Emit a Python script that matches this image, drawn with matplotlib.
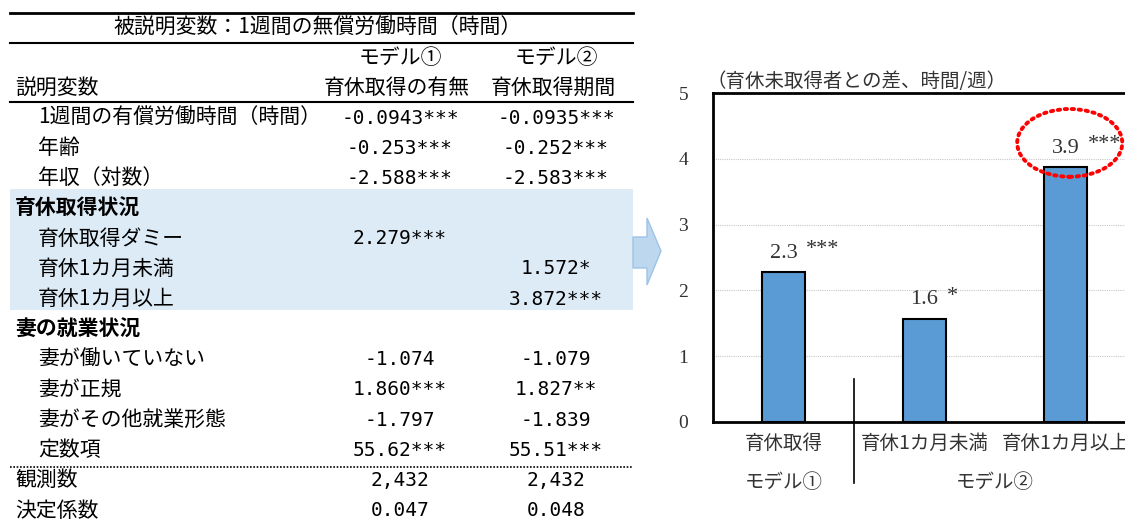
import matplotlib
matplotlib.use('Agg')
import numpy as np
import matplotlib.pyplot as plt
from matplotlib.patches import Rectangle, Polygon, Ellipse
import matplotlib.transforms as mtransforms

plt.rcParams['font.family'] = ['Noto Sans CJK JP', 'DejaVu Sans']

# 回帰表
table_title = '被説明変数：1週間の無償労働時間（時間）'
model_names = ['モデル①', 'モデル②']
model_desc = ['育休取得の有無', '育休取得期間']
row_labels = ['1週間の有償労働時間（時間）', '年齢', '年収（対数）', '育休取得状況',
              '育休取得ダミー', '育休1カ月未満', '育休1カ月以上', '妻の就業状況',
              '妻が働いていない', '妻が正規', '妻がその他就業形態', '定数項',
              '観測数', '決定係数']
row_kind = ['item', 'item', 'item', 'head', 'item', 'item', 'item', 'head',
            'item', 'item', 'item', 'item', 'stat', 'stat']
model1_vals = ['-0.0943***', '-0.253***', '-2.588***', '', '2.279***', '', '', '',
               '-1.074', '1.860***', '-1.797', '55.62***', '2,432', '0.047']
model2_vals = ['-0.0935***', '-0.252***', '-2.583***', '', '', '1.572*', '3.872***', '',
               '-1.079', '1.827**', '-1.839', '55.51***', '2,432', '0.048']

# 棒グラフ
bar_title = '（育休未取得者との差、時間/週）'
categories = ['育休取得', '育休1カ月未満', '育休1カ月以上']
coefs = [2.279, 1.572, 3.872]
stars = ['***', '*', '***']
groups = ['モデル①', 'モデル②']
group_members = [[0], [1, 2]]

fig = plt.figure(figsize=(11.25, 5.2), dpi=100)

# 左側の表 (ピクセル座標)
ax0 = fig.add_axes([0, 0, 1, 1])
ax0.set_xlim(0, 1125)
ax0.set_ylim(520, 0)
ax0.axis('off')

fs = 15
num_font = dict(fontsize=14, fontfamily='DejaVu Sans Mono')
col_x = [400, 556]
ax0.add_patch(Rectangle((10, 189), 623, 121, facecolor='#DDEBF7', edgecolor='none', zorder=0))
ax0.add_patch(Polygon([(633, 237), (647, 237), (647, 218), (661, 251), (647, 285), (647, 268), (633, 268)],
                      closed=True, facecolor='#BDD7EE', edgecolor='#9DC3E6', lw=1, zorder=1))

ax0.plot([10, 633], [13, 13], color='k', lw=2)
ax0.plot([10, 633], [43, 43], color='k', lw=1.5)
ax0.plot([10, 633], [102, 102], color='k', lw=1.5)
ax0.plot([10, 633], [467, 467], color='k', lw=1.2, linestyle=(0, (1, 1)))

ax0.text(318, 28, table_title, fontsize=fs, ha='center', va='center')
for i in range(2):
    ax0.text(col_x[i], 58, model_names[i], fontsize=fs, ha='center', va='center')
    ax0.text(col_x[i] - 3, 88, model_desc[i], fontsize=fs, ha='center', va='center')
ax0.text(15, 88, '説明変数', fontsize=fs, ha='left', va='center')

for i, lab in enumerate(row_labels):
    y = 118 + 30.2 * i
    if row_kind[i] == 'head':
        ax0.text(15, y, lab, fontsize=fs, ha='left', va='center', fontweight='bold')
    elif row_kind[i] == 'stat':
        ax0.text(15, y, lab, fontsize=fs, ha='left', va='center')
    else:
        ax0.text(38, y, lab, fontsize=fs, ha='left', va='center')
    ax0.text(col_x[0], y, model1_vals[i], ha='center', va='center', **num_font)
    ax0.text(col_x[1], y, model2_vals[i], ha='center', va='center', **num_font)

# 右側の棒グラフ
ax = fig.add_axes([713 / 1125, 98 / 520, 423 / 1125, 329 / 520])
x = np.arange(len(categories))
ax.bar(x, coefs, width=0.31, color='#5B9BD5', edgecolor='k', linewidth=1.5, zorder=2)
ax.set_xlim(-0.5, len(categories) - 0.5)
ax.set_ylim(0, 5)
ax.set_yticks(np.arange(0, 6, 1))
ax.yaxis.grid(True, linestyle=(0, (1, 1)), color='#C8C8C8', linewidth=0.8)
ax.set_axisbelow(True)
for s in ax.spines.values():
    s.set_linewidth(2)
ax.tick_params(axis='y', length=0, pad=18, labelsize=14, labelcolor='#333333')
for t in ax.get_yticklabels():
    t.set_fontfamily('Liberation Serif')
ax.set_xticks(x)
ax.set_xticklabels(categories, fontsize=14, color='#333333')
ax.tick_params(axis='x', length=0, pad=8)

for i, v in enumerate(coefs):
    ax.annotate(f'{v:.1f}', (i, v), xytext=(0, 10.3), textcoords='offset points',
                ha='center', va='baseline', fontsize=16, color='#333333',
                fontfamily='Liberation Serif')
    ax.annotate(stars[i], (i, v), xytext=(16, 13), textcoords='offset points',
                ha='left', va='baseline', fontsize=16, color='#333333',
                fontfamily='Liberation Serif')

top = int(np.argmax(coefs))
ax.add_patch(Ellipse((top + 0.03, coefs[top] + 0.37), 0.745, 1.03, fill=False,
                     edgecolor='#FF0000', linewidth=2.8, linestyle=(0, (0.6, 1.2)),
                     capstyle='round', clip_on=False, zorder=5))

ax.text(-0.015, 1.034, bar_title, transform=ax.transAxes, fontsize=14,
        ha='left', va='center', color='#333333')

trans = mtransforms.blended_transform_factory(ax.transData, ax.transAxes)
for g, members in zip(groups, group_members):
    ax.text(np.mean(members), -0.185, g, transform=trans, fontsize=14,
            ha='center', va='center', color='#333333')
ax.plot([0.5, 0.5], [0.13, -0.185], transform=trans, color='k', lw=1.2, clip_on=False)

fig.savefig('out.png', dpi=100)
